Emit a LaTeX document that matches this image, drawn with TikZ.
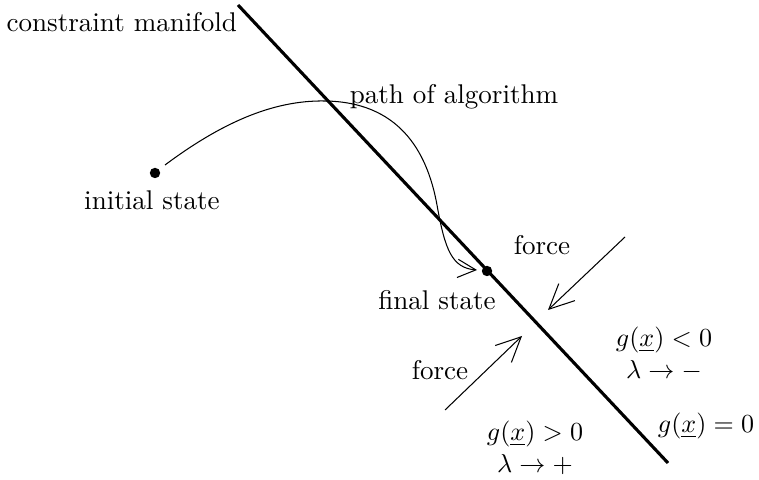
\documentclass[tikz,border=0pt]{standalone}
\usetikzlibrary{positioning, arrows.meta, calc}

\tikzset{
  dot/.style={circle, fill, inner sep=0pt, minimum size=4pt},
  lbl/.style={inner sep=1pt, align=center},
  manifold/.style={line width=1.2pt},
  thinarrow/.style={->, line width=0.4pt}
}

\begin{document}
\begin{tikzpicture}[>={Straight Barb[length=9.5pt, width=9pt]}, x=0.0135cm, y=-0.0135cm,
  font=\fontsize{10.4}{12.5}\selectfont]
\useasboundingbox (0,0) rectangle (759,480);
% constraint line g(x)=0
\coordinate (mtop) at (238,5);
\coordinate (mbot) at (668,463);
\draw[manifold] (mtop) -- (mbot);
\node[lbl, anchor=east] (cm) at (240,22) {constraint manifold};
% states
\node[dot] (init) at (155,173) {};
\node[dot] (final) at (487,271) {};
\node[lbl] (initlbl) at (152,200) {initial state};
\node[lbl] (finallbl) at (437,300) {final state};
% path of the algorithm
\node[lbl] (pathlbl) at (454,97) {path of algorithm};
\coordinate (pstart) at (165,165);
\draw[thinarrow, >={Straight Barb[length=7pt, width=7pt]}] (pstart)
  .. controls (220,124) and (272,100) .. (325,101)
  .. controls (398,102) and (427,150) .. (437,205)
  .. controls (445,250) and (452,268) .. ($(final)+(-10,-1)$);
% forces
\coordinate (f1s) at (625,237);
\coordinate (f1e) at (548,310);
\coordinate (f2s) at (445,410);
\coordinate (f2e) at (522,336);
\draw[thinarrow] (f1s) -- (f1e);
\draw[thinarrow] (f2s) -- (f2e);
\node[lbl] (force1) at (542,245) {force};
\node[lbl] (force2) at (440,370) {force};
% regions
\node[lbl] (neg) at (664,354) {$g(\underline{x})<0$\\$\lambda\rightarrow -$};
\node[lbl] (zero) at (706,426) {$g(\underline{x})=0$};
\node[lbl] (pos) at (535,448) {$g(\underline{x})>0$\\$\lambda\rightarrow +$};
\end{tikzpicture}
\end{document}
